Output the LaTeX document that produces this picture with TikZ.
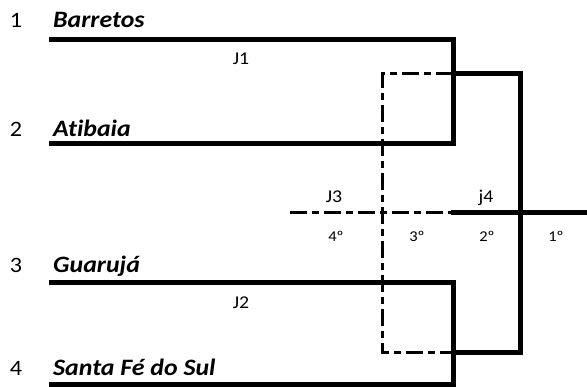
\documentclass[tikz,border=0pt]{standalone}
\usepackage{fontspec}
\setmainfont{Carlito}[Ligatures=NoCommon]

\begin{document}
\begin{tikzpicture}[
    x=1pt,
    y=-1pt,
    seed/.style={
        anchor=base,
        inner sep=0pt,
        xscale=1.1,
        font=\fontsize{22}{24}\selectfont
    },
    team/.style={
        anchor=base west,
        inner sep=0pt,
        xscale=1.1,
        font=\fontsize{23.5}{26}\selectfont\bfseries\itshape
    },
    game/.style={
        anchor=base,
        inner sep=0pt,
        xscale=1.1,
        font=\fontsize{18}{20}\selectfont
    },
    place/.style={
        anchor=base,
        inner sep=0pt,
        xscale=1.1,
        font=\fontsize{15}{17}\selectfont
    },
    winner/.style={
        line width=5pt,
        line join=miter
    },
    loser/.style={
        line width=3pt,
        dash pattern=on 17pt off 5pt on 7pt off 5pt
    }
]
    \useasboundingbox (0,0) rectangle (587,387);

    % Seeds and teams
    \node[seed] (s1) at (16,28) {1};
    \node[seed] (s2) at (16,137) {2};
    \node[seed] (s3) at (16,273) {3};
    \node[seed] (s4) at (16,376) {4};
    \node[team] (t1) at (53,28) {Barretos};
    \node[team] (t2) at (53,137) {Atibaia};
    \node[team] (t3) at (53,273) {Guarujá};
    \node[team] (t4) at (53,376) {Santa Fé do Sul};

    % Bracket corners
    \coordinate (a1) at (49,40);
    \coordinate (b1) at (453,40);
    \coordinate (b2) at (453,144);
    \coordinate (a2) at (49,144);
    \coordinate (a3) at (49,283);
    \coordinate (b3) at (453,283);
    \coordinate (b4) at (453,385);
    \coordinate (a4) at (49,385);
    \coordinate (w1) at (453,74);
    \coordinate (w2) at (453,353);
    \coordinate (c1) at (520,74);
    \coordinate (c2) at (520,353);
    \coordinate (l1) at (382,74);
    \coordinate (l2) at (382,353);
    \coordinate (k3) at (290,213);
    \coordinate (k4) at (451,213);
    \coordinate (fin) at (587,213);

    % Semifinals
    \draw[winner] (a1) -- (b1) -- (b2) -- (a2);
    \draw[winner] (a3) -- (b3) -- (b4) -- (a4);

    % Final
    \draw[winner] (w1) -- (c1) -- (c2) -- (w2);
    \draw[winner] (k4) -- (fin);

    % Third place
    \draw[loser] (w1) -- (l1) -- (l2) -- (w2);
    \draw[loser] (k3) -- (k4);

    % Game labels
    \node[game] (j1) at (241,65) {J1};
    \node[game] (j2) at (241,309) {J2};
    \node[game] (j3) at (334,203) {J3};
    \node[game] (j4) at (486,203) {j4};

    % Places
    \node[place] (p4) at (336,241.5) {4º};
    \node[place] (p3) at (417,241.5) {3º};
    \node[place] (p2) at (487,241.5) {2º};
    \node[place] (p1) at (556,241.5) {1º};
\end{tikzpicture}
\end{document}
